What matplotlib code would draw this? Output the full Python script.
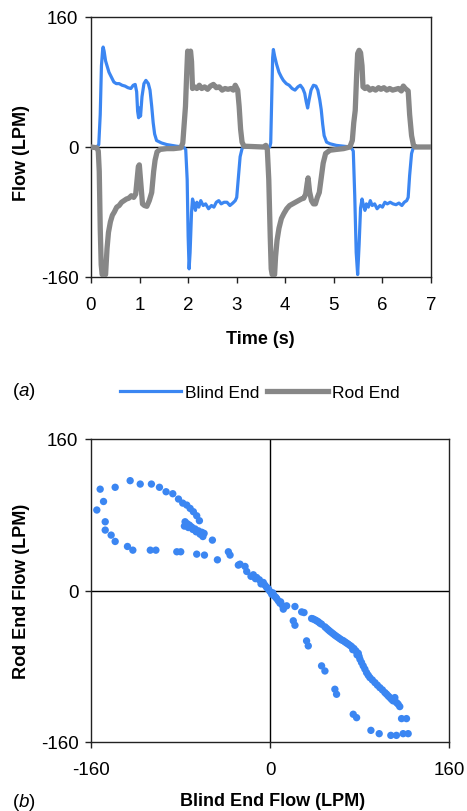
import numpy as np
import matplotlib.pyplot as plt
from matplotlib.lines import Line2D

plt.rcParams['font.family'] = ['Liberation Sans', 'DejaVu Sans']
plt.rcParams['axes.unicode_minus'] = False
plt.rcParams['mathtext.fontset'] = 'custom'
plt.rcParams['mathtext.rm'] = 'Liberation Sans'
plt.rcParams['mathtext.it'] = 'Liberation Sans:italic'

# (a) flow vs time as (time s, flow LPM)
blind_pts = [
    (0.00, 0), (0.12, 0), (0.16, 3), (0.19, 40), (0.215, 100), (0.24, 120), (0.25, 123),
    (0.27, 118), (0.30, 106), (0.33, 100), (0.37, 92), (0.42, 86), (0.47, 80), (0.52, 78),
    (0.58, 78), (0.64, 76), (0.70, 75), (0.76, 73), (0.82, 72), (0.87, 76), (0.91, 77),
    (0.94, 68), (0.96, 44), (0.98, 36), (1.00, 48), (1.02, 38), (1.05, 62), (1.09, 78),
    (1.13, 82), (1.18, 78), (1.215, 70), (1.25, 50), (1.28, 30), (1.31, 16), (1.35, 8),
    (1.45, 5), (1.56, 3), (1.66, 2), (1.76, 1), (1.90, 0), (1.95, -3), (1.98, -40),
    (2.00, -110), (2.02, -150), (2.04, -130), (2.07, -80), (2.09, -64), (2.12, -70),
    (2.15, -78), (2.18, -68), (2.22, -74), (2.26, -66), (2.31, -72), (2.36, -70),
    (2.42, -76), (2.48, -72), (2.53, -74), (2.58, -68), (2.63, -66), (2.68, -70),
    (2.74, -68), (2.80, -68), (2.86, -72), (2.92, -69), (2.97, -66), (3.00, -62),
    (3.03, -40), (3.07, -12), (3.11, -2), (3.14, 0), (3.68, 0), (3.70, 5), (3.72, 60),
    (3.74, 110), (3.755, 120), (3.78, 112), (3.82, 102), (3.87, 92), (3.92, 86), (3.96, 82),
    (4.02, 78), (4.08, 76), (4.14, 72), (4.20, 70), (4.26, 74), (4.31, 76), (4.36, 72),
    (4.40, 66), (4.43, 56), (4.46, 48), (4.49, 58), (4.53, 70), (4.58, 76), (4.63, 75),
    (4.67, 70), (4.71, 58), (4.74, 46), (4.77, 28), (4.80, 14), (4.85, 6), (4.92, 4),
    (5.05, 2), (5.20, 1), (5.35, 0), (5.40, -5), (5.43, -60), (5.46, -130), (5.49, -157),
    (5.52, -120), (5.55, -75), (5.58, -64), (5.61, -72), (5.64, -78), (5.67, -70),
    (5.71, -74), (5.75, -66), (5.79, -72), (5.84, -70), (5.89, -76), (5.95, -72),
    (6.00, -74), (6.05, -68), (6.10, -70), (6.16, -68), (6.22, -70), (6.28, -71),
    (6.34, -69), (6.40, -72), (6.45, -68), (6.50, -66), (6.53, -62), (6.56, -35),
    (6.60, -8), (6.64, 0), (7.00, 0),
]

rod_pts = [
    (0.00, 0), (0.12, -1), (0.15, -5), (0.17, -30), (0.19, -100), (0.21, -145), (0.23, -157),
    (0.27, -152), (0.30, -157), (0.33, -125), (0.36, -105), (0.40, -92), (0.44, -84),
    (0.48, -80), (0.53, -74), (0.58, -72), (0.63, -68), (0.68, -66), (0.73, -64),
    (0.78, -63), (0.83, -60), (0.88, -62), (0.92, -58), (0.95, -40), (0.975, -24),
    (0.995, -22), (1.02, -40), (1.06, -70), (1.10, -72), (1.15, -73), (1.20, -66),
    (1.25, -56), (1.29, -30), (1.32, -16), (1.36, -6), (1.42, -3), (1.56, -2), (1.70, -2),
    (1.85, -1), (1.89, 5), (1.92, 30), (1.945, 50), (1.97, 90), (1.99, 118), (2.02, 114),
    (2.05, 118), (2.07, 105), (2.09, 72), (2.13, 74), (2.18, 72), (2.23, 76), (2.28, 72),
    (2.34, 74), (2.40, 71), (2.46, 75), (2.52, 77), (2.58, 73), (2.64, 74), (2.70, 70),
    (2.76, 72), (2.82, 71), (2.88, 72), (2.93, 70), (2.97, 76), (3.02, 70), (3.05, 50),
    (3.08, 22), (3.11, 6), (3.15, 1), (3.55, 0), (3.60, 2), (3.63, -3), (3.66, -40),
    (3.69, -110), (3.71, -150), (3.73, -157), (3.78, -157), (3.80, -135), (3.83, -115),
    (3.87, -100), (3.92, -88), (3.97, -82), (4.03, -76), (4.09, -72), (4.15, -70),
    (4.21, -68), (4.27, -66), (4.33, -64), (4.38, -63), (4.42, -58), (4.45, -45),
    (4.47, -38), (4.50, -55), (4.54, -66), (4.58, -70), (4.62, -70), (4.66, -62),
    (4.70, -56), (4.74, -38), (4.78, -20), (4.83, -8), (4.92, -4), (5.05, -3), (5.20, -2),
    (5.33, 0), (5.38, 8), (5.41, 30), (5.44, 45), (5.47, 90), (5.49, 115), (5.52, 119),
    (5.55, 116), (5.58, 100), (5.60, 74), (5.64, 72), (5.69, 74), (5.74, 70), (5.80, 72),
    (5.86, 70), (5.92, 73), (5.97, 71), (6.03, 73), (6.09, 70), (6.15, 72), (6.21, 70),
    (6.27, 71), (6.33, 72), (6.39, 69), (6.43, 75), (6.47, 72), (6.53, 69), (6.56, 40),
    (6.60, 14), (6.64, 2), (6.67, 0), (7.00, 0),
]

# (b) rod end flow vs blind end flow (LPM)
loop_blind = [
    -154.8, -151.8, -148.8, -147.3, -147.3, -142, -138.4, -138.4, -127.4, -122.6, -125,
    -116, -107, -102, -106, -98.8, -92.9, -86.9, -83.3, -79.8, -81.8, -78, -74.4, -71.4,
    -68.5, -65.5, -63.1, -65.5, -58.6, -75.9, -74, -72, -70, -67, -64, -61, -58.9,
    -76.5, -73, -69, -66, -62.5, -60,
    -51.5, -47, -37.2, -35.7, -28.3, -26.8, -22.3, -20.8, -14.9, -11.9, -9.5, -6, -4.5,
    -3, -1.5, 0, 1.5, 3.6, 6, 7.4, 8.9, 11.3, 11.9, 14.9, 22.3, 20.8, 22.3, 28.3, 30.4,
    -17, -13, -8, -2, 2.5, 5, 9.5,
    32.7, 34.2, 37.2, 40.2, 43.2, 46.1, 49.1, 52.1, 55, 58, 61, 64, 67, 70, 72.9, 75, 76.8,
    78.9, 80.4, 83.3, 86.3, 89.3, 93.8, 98.2, 102.7, 105.7, 108.6, 111.6, 113.1, 116,
    38.5, 41.7, 44.6, 50.6, 53.5, 56.5, 59.5, 62.5, 65.5, 68.5, 71.5, 74, 77.8, 79.6,
    81.8, 84.8, 87.8, 91.5, 96, 100.5, 104.2, 107.1, 110, 114.5,
    46.1, 49.1, 58, 59.5, 74.4, 77.4, 90.2, 97.6, 108, 113, 117.6, 122, 119, 123.5,
]
loop_rod = [
    85, 107, 94, 72.6, 63.8, 58.5, 51.8, 109, 46.5, 42.6, 116,
    112.4, 42.6, 42.6, 112.4, 109, 104.3, 102.2, 40.9, 40.9, 96.6, 92.3, 90.2, 86.7,
    83.2, 78.9, 73.7, 38.4, 37.4, 72.6, 70.5, 69, 67, 65, 63, 61.5, 60.3,
    68, 66.5, 64.5, 62, 59.5, 57,
    53.2, 32.4, 40.9, 37.4, 26.8, 27.8, 25.4, 20.1, 16.6, 13.7, 11.3, 8.5, 5.6,
    3.2, 1.4, -1, -3.9, -5.6, -8.5, -10.9, -13.4, -16.2, -19.7, -16.2, -16.9, -32, -36.7,
    -22.6, -23.3,
    15, 12.5, 7, 2.5, -2.5, -7, -12,
    -53.2, -58.5, -29.6, -31, -33.1, -35.6, -38.4, -41.6, -44.4, -47.2,
    -49.7, -52.2, -54.3, -56.7, -59.2, -61.3, -63.8, -66.3, -72.6, -79.6, -86.7, -92,
    -97.3, -102.6, -107.8, -111.4, -114.9, -113.1, -118.4, -122.6,
    -30, -32, -34.5, -40, -43, -45.8, -48.5, -51, -53, -55.5, -58, -62.5, -68, -69.5,
    -76, -83, -89.5, -94.5, -100, -105, -109.5, -113, -116.5, -120,
    -79.6, -85, -104.3, -109.6, -130.7, -134.3, -147.7, -151.2, -153, -153, -135.3,
    -135.3, -151.2, -151.2,
]

blue = '#3b86f2'
grey = '#878787'

W, H = 467, 812
fig = plt.figure(figsize=(W / 100, H / 100), dpi=100)


def px_axes(left, top, right, bottom):
    return fig.add_axes([left / W, 1 - bottom / H, (right - left) / W, (bottom - top) / H])


def style(ax):
    for s in ax.spines.values():
        s.set_linewidth(1.0)
        s.set_color('#222222')
    ax.tick_params(direction='out', length=4, width=1, labelsize=13.5, pad=5,
                   colors='#222222', labelcolor='black')


# ---- (a) time history
ax1 = px_axes(91, 18, 431, 278)
bp = np.array(blind_pts)
rp = np.array(rod_pts)
ax1.axhline(0, color='black', lw=1.0, zorder=1)
ax1.plot(bp[:, 0], bp[:, 1], color=blue, lw=2.3, zorder=2, label='Blind End')
ax1.plot(rp[:, 0], rp[:, 1], color=grey, lw=3.8, zorder=3, label='Rod End')
ax1.set_xlim(0, 7)
ax1.set_ylim(-160, 160)
ax1.set_xticks(range(0, 8))
ax1.set_yticks([-160, 0, 160])
style(ax1)
ax1.tick_params(axis='x', pad=10)
fig.text(260 / W, 1 - 340 / H, 'Time (s)', ha='center', va='center',
         fontsize=13, fontweight='bold')
fig.text(22 / W, 1 - 153 / H, 'Flow (LPM)', rotation=90, ha='center', va='center',
         fontsize=13, fontweight='bold')
fig.text(12 / W, 1 - 391 / H, r'($\it{a}$)', ha='left', va='center', fontsize=13.5)

# legend for (a)
h1 = Line2D([], [], color=blue, lw=2.3)
h2 = Line2D([], [], color=grey, lw=3.8)
fig.legend([h1, h2], ['Blind End', 'Rod End'], loc='center', ncol=2,
           bbox_to_anchor=(260 / W, 1 - 393 / H), frameon=False, fontsize=12.5,
           handlelength=3.5, handletextpad=0.25, columnspacing=0.45)

# ---- (b) cross plot
ax2 = px_axes(91, 440, 449, 743)
ax2.axhline(0, color='black', lw=1.0, zorder=1)
ax2.axvline(0, color='black', lw=1.0, zorder=1)
ax2.scatter(loop_blind, loop_rod, s=28, color=blue, edgecolors='none', zorder=3)
ax2.set_xlim(-160, 160)
ax2.set_ylim(-160, 160)
ax2.set_xticks([-160, 0, 160])
ax2.set_yticks([-160, 0, 160])
style(ax2)
ax2.tick_params(axis='x', pad=10)
fig.text(273 / W, 1 - 802 / H, 'Blind End Flow (LPM)', ha='center', va='center',
         fontsize=13, fontweight='bold')
fig.text(22 / W, 1 - 591 / H, 'Rod End Flow (LPM)', rotation=90, ha='center',
         va='center', fontsize=13, fontweight='bold')
fig.text(12 / W, 1 - 803 / H, r'($\it{b}$)', ha='left', va='center', fontsize=13.5)

fig.savefig('out.png', dpi=100)
